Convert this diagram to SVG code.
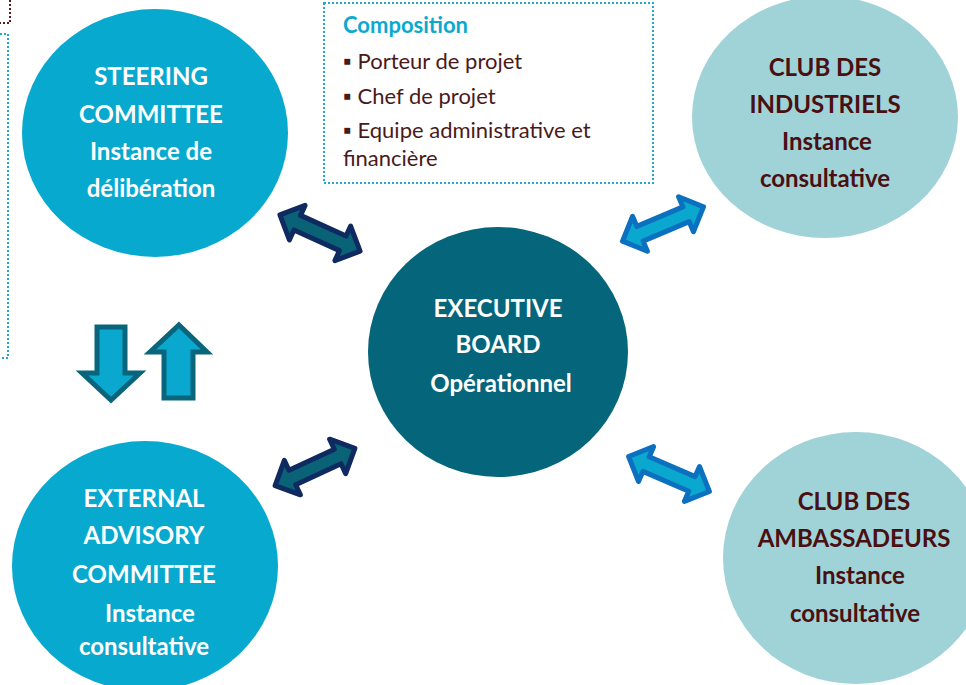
<svg xmlns="http://www.w3.org/2000/svg" width="966" height="685" viewBox="0 0 966 685">
<defs>
<style>
.t{font-family:Lato,"Open Sans","Liberation Sans",sans-serif;font-weight:bold;text-anchor:middle}
.w{fill:#ffffff}
.b{fill:#4a0f10}
.big{font-size:24px}
.sm{font-size:24px}
.dot{fill:none;stroke:#21a9cd;stroke-width:2;stroke-dasharray:2 2}
.li{font-family:Lato,"Open Sans","Liberation Sans",sans-serif;font-size:22px;fill:#4a1a1a}
.da1{fill:#0a6277;stroke:#0e2a60;stroke-width:5;stroke-linejoin:round}
.da2{fill:#0aa8cf;stroke:#0b70c0;stroke-width:5;stroke-linejoin:round}
.va{fill:#0aa8cf;stroke:#08657b;stroke-width:5}
</style>
<path id="dbl" d="M-44,0 L-25,-19 L-25,-8 L25,-8 L25,-19 L44,0 L25,19 L25,8 L-25,8 L-25,19 Z"/>
</defs>
<rect width="966" height="685" fill="#ffffff"/>
<!-- partial frames at left -->
<path d="M10,0 L10,23 L0,23" fill="none" stroke="#5a1a1a" stroke-width="2" stroke-dasharray="2 2"/>
<path class="dot" d="M0,34 L8,34 L8,358 L0,358"/>

<g id="composition">
<rect class="dot" x="324" y="3" width="329" height="180"/>
<text x="343" y="33" style="font-family:Lato,'Open Sans','Liberation Sans',sans-serif;font-weight:bold;font-size:22px;fill:#0aa9d0">Composition</text>
<text class="li" x="343" y="69">▪ Porteur de projet</text>
<text class="li" x="343" y="104">▪ Chef de projet</text>
<text class="li" x="343" y="138">▪ Equipe administrative et</text>
<text class="li" x="343" y="166">financière</text>
</g>

<g id="connectors">
<use href="#dbl" class="da1" transform="translate(320,233) rotate(24.4)"/>
<use href="#dbl" class="da2" transform="translate(663,224) rotate(-23)"/>
<use href="#dbl" class="da1" transform="translate(315,467) rotate(-25)"/>
<use href="#dbl" class="da2" transform="translate(669,474) rotate(23.4)"/>
<path class="va" d="M97,327 L125,327 L125,373 L140,373 L111,400 L82,373 L97,373 Z"/>
<path class="va" d="M179,325 L207,352 L193,352 L193,398 L164,398 L164,352 L150,352 Z"/>
</g>

<g id="steering">
<ellipse cx="155" cy="133" rx="133" ry="124" fill="#07a9cf"/>
<text class="t w big" x="151" y="85">STEERING</text>
<text class="t w big" x="151" y="123">COMMITTEE</text>
<text class="t w sm" x="151" y="160">Instance de</text>
<text class="t w sm" x="151" y="197">délibération</text>
</g>

<g id="executive">
<ellipse cx="498" cy="352" rx="130" ry="125" fill="#05657a"/>
<text class="t w big" x="498" y="317">EXECUTIVE</text>
<text class="t w big" x="498" y="353">BOARD</text>
<text class="t w sm" x="501" y="392">Opérationnel</text>
</g>

<g id="industriels">
<ellipse cx="825" cy="117" rx="133" ry="121" fill="#9fd3d8"/>
<text class="t b big" x="825" y="76">CLUB DES</text>
<text class="t b big" x="825" y="113">INDUSTRIELS</text>
<text class="t b sm" x="827" y="150">Instance</text>
<text class="t b sm" x="825" y="187">consultative</text>
</g>

<g id="ambassadeurs">
<ellipse cx="856" cy="558" rx="133" ry="126" fill="#9fd3d8"/>
<text class="t b big" x="854" y="510">CLUB DES</text>
<text class="t b big" x="854" y="547">AMBASSADEURS</text>
<text class="t b sm" x="860" y="584">Instance</text>
<text class="t b sm" x="855" y="622">consultative</text>
</g>

<g id="external">
<ellipse cx="145" cy="566" rx="133" ry="125" fill="#07a9cf"/>
<text class="t w big" x="144" y="507">EXTERNAL</text>
<text class="t w big" x="144" y="544">ADVISORY</text>
<text class="t w big" x="144" y="583">COMMITTEE</text>
<text class="t w sm" x="150" y="622">Instance</text>
<text class="t w sm" x="144" y="655">consultative</text>
</g>
</svg>
